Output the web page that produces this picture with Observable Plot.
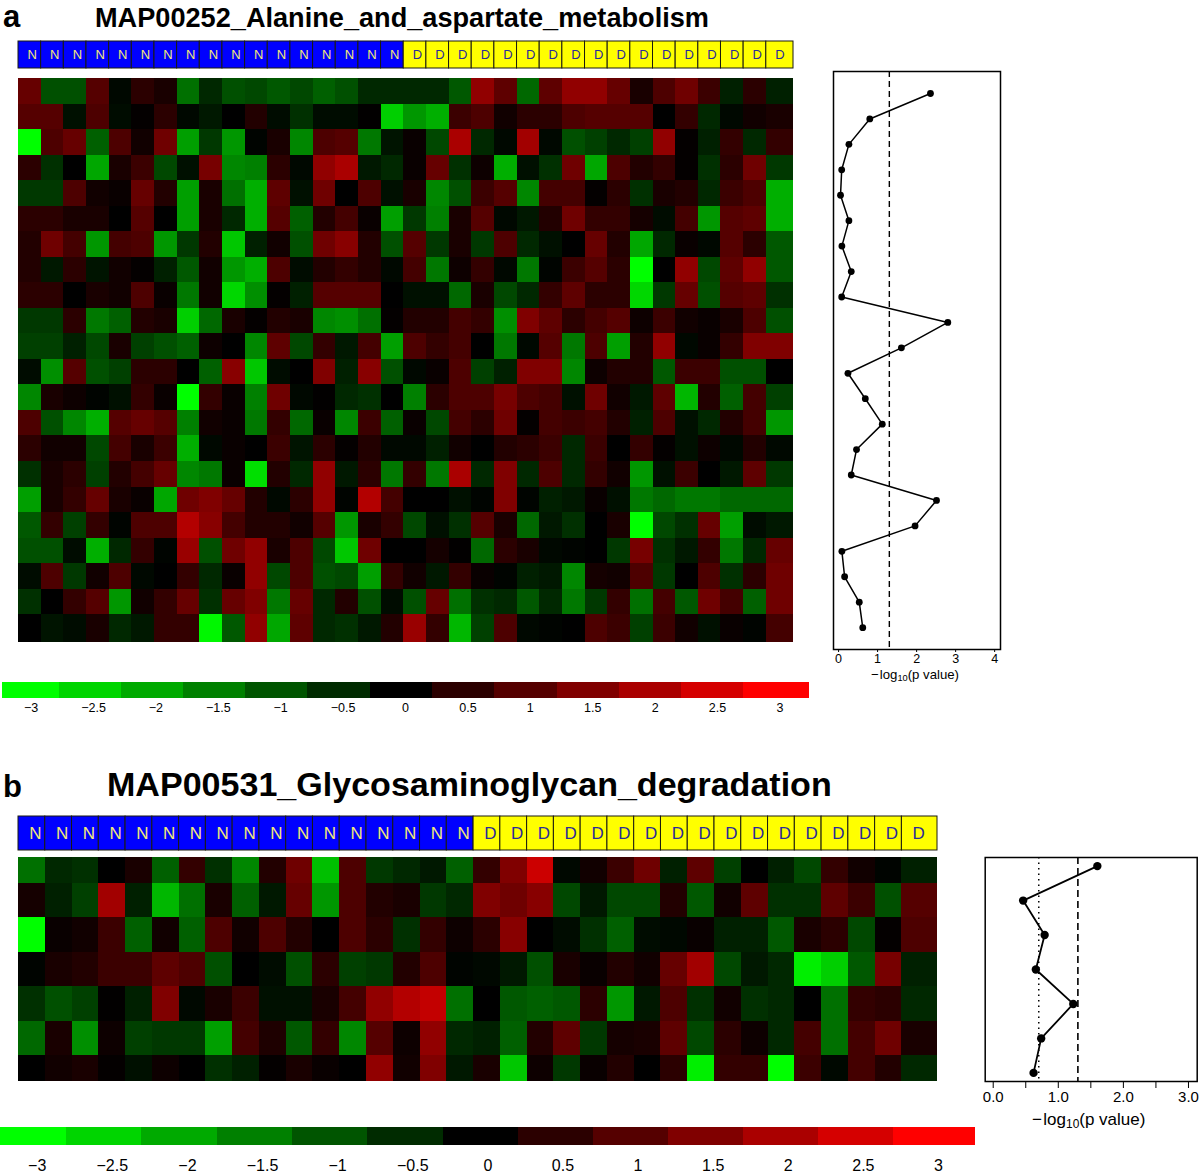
<!DOCTYPE html>
<html>
<head>
<meta charset="utf-8">
<script src="https://cdn.jsdelivr.net/npm/d3@7"></script>
<script src="https://cdn.jsdelivr.net/npm/@observablehq/plot@0.6"></script>
<style>
html,body{margin:0;padding:0;background:#fff}
#page{position:relative;width:1200px;height:1176px;overflow:hidden;font-family:"Liberation Sans",Arial,sans-serif;color:#000}
#page svg{position:absolute;background:transparent}
.t{position:absolute;font-weight:700;white-space:nowrap;line-height:1}
.x{position:absolute;white-space:nowrap;line-height:1}
.x sub{font-size:70%;line-height:0;vertical-align:-0.25em}
</style>
</head>
<body>
<div id="page"></div>
<script>
const titleA = "MAP00252_Alanine_and_aspartate_metabolism";
const titleB = "MAP00531_Glycosaminoglycan_degradation";
const classes = ["N","N","N","N","N","N","N","N","N","N","N","N","N","N","N","N","N","D","D","D","D","D","D","D","D","D","D","D","D","D","D","D","D","D"];

const heatA = [
[1.2,-1,-1,1,-.1,.5,.3,-1.4,-.5,-1,-.9,-1.1,-.9,-1.2,-1,-.5,-.5,-.5,-.5,-1.1,1.7,1.1,-1.3,1.1,1.7,1.7,1.2,.3,.9,1.3,.7,-.4,.5,-.4],
[1,1,-.2,.9,-.15,.05,.5,-.1,-.3,0,.4,-.15,-.6,-.15,-.15,.02,-2.6,-1.9,-2.2,.7,.9,.2,.5,.5,.9,1,1,1,0,.6,-.5,-.1,.2,.3],
[-3.2,.9,1.2,-1.2,.9,.2,1.3,-2,-.7,-1.9,-.05,.3,-1.7,.9,1,-1.5,-.25,.1,-.9,2,-.5,-.1,1.9,-.1,-1,-.8,-.5,-.8,1.7,.05,-.4,.6,-.5,.6],
[.5,-.6,0,-2.1,.3,.7,-.9,-.2,1.4,-1.7,-1.6,.5,-.1,1.7,2,-.3,-.5,.1,1.2,-.6,.15,-2.2,-.2,-.6,1.3,-2.1,.9,.4,.6,.05,-.6,.5,1.3,-.7],
[-.7,-.7,.9,.2,.1,1.2,.4,-2,.3,-1.4,-2.2,1.1,-.2,1.3,0,.9,-.2,.3,-1.7,-1,.7,1,-1.7,.8,.8,.05,.5,-.6,.3,.4,-.5,.7,.9,-2.2],
[.5,.5,.3,.3,0,1,0,-2,.3,-.5,-2.2,1,-1.2,.4,.8,.1,-2,-.7,-1.6,.3,1,-.1,-.3,.4,1.3,.6,.6,.25,-.15,.8,-1.9,1,1.1,-2.2],
[.4,1.3,.8,-1.9,.8,.9,-1.9,-.7,.4,-2.5,-.4,.2,-1,1.3,1.6,.4,-1,1,-.7,.3,-.7,.9,-.5,-.2,0,1.2,.4,-2.1,-.5,.1,-.1,1,.5,-1.1],
[.4,-.3,.5,-.25,.2,.05,-.4,-1.1,.2,-1.9,-2.2,.9,-.15,.4,.6,.4,-.1,.8,-1.5,.15,.6,-.1,-1.5,-.05,.7,1,.5,-3.2,0,1.7,-.9,1.1,1.7,-1.1],
[.5,.5,0,.3,.2,.9,.1,-1.5,.2,-2.7,-1.8,.05,-.4,1,1,1,0,-.2,-.2,-1.3,.3,-.9,-.5,.6,1.1,.5,.5,-2.7,-.7,1.2,-1,1,1.1,-.6],
[-.7,-.7,.5,-1.5,-1.2,.4,.3,-2.6,-1.3,.3,.05,.4,.3,-1.7,-1.8,-1.4,.05,.4,.4,.8,.6,-1.8,1.5,1.1,.5,.8,1,.15,.7,.2,.1,.3,.9,-1],
[-.8,-.8,-.4,-.9,.3,-.8,-1,-1.2,.15,0,-1.7,1.1,-.9,.6,-.3,.8,-2,.9,.6,.8,0,-1.5,-.1,1,-1.5,.9,-2,.4,1.7,-.1,.1,.6,1.5,1.5],
[-.15,-1.8,1,-1,-.8,.5,.5,0,-1.2,1.6,-2.5,-.15,0,1.5,-.4,1.6,-1,-.1,.1,.9,-.8,-.4,1.5,1.5,-1.7,.15,.4,.4,-1.1,.7,.7,-1,-1,0],
[-1.7,.3,.15,-.05,-.2,.6,.1,-3.2,.6,.1,-1.6,1.3,-.1,.02,-.5,-.6,0,-1.6,.5,.9,.9,1.4,.9,.8,-.2,1.3,.2,-.3,1.1,-2.3,.4,-1.2,.8,-.8],
[.9,-1,-1.7,-2.2,1,1.2,1,-1.6,.2,.1,-1.5,.6,-1.3,.1,-1.7,.7,-1.2,.1,-.9,.8,.5,1.3,.05,.8,.7,.8,.4,-.4,.9,-.2,-.5,.4,.8,-1.9],
[.5,.2,.2,-.9,.8,.3,.7,-2.2,-.1,.1,0,.7,-.25,.5,.05,.4,-.1,-.1,-.4,.2,0,.4,.5,.7,-.5,.7,0,.6,.05,-.2,.15,-.1,.4,-.1],
[-.6,.3,.5,-.8,.4,.8,1.2,-1.7,-1.5,.1,-2.8,.4,-.5,1.7,-.3,.5,-1.5,.6,-1.5,2,-.5,1.5,-.5,.9,-.5,.6,.2,-1.9,-.2,.7,0,-.3,1.1,-.7],
[-2,.3,.6,1.2,.3,.1,-2.1,1.3,1.5,1.2,.4,-.1,.5,1.7,-.05,2.1,.8,0,0,-.2,-.05,1.5,-.05,-.4,-.3,.1,-.2,-1.5,-1.3,-1.5,-1.5,-1.3,-1.3,-1.3],
[-1.1,.6,-.8,.6,-.05,.9,.9,2.1,1.6,.8,.4,.4,.2,1,-1.9,.3,.6,-.9,-.2,-.6,1,.3,-1.3,-.3,-.6,0,.3,-3.2,-.9,-.6,1.2,-2,-.15,-.3],
[-1,-1,-.15,-2.2,-.5,.6,-.05,1.8,-1,1.3,1.7,.3,.9,-.9,-2.5,1.3,0,0,.25,.02,-1.3,.5,.3,-.1,-.05,0,-.7,1.4,-.6,-.3,.6,-1.5,-.5,1.2],
[-.15,.9,-.7,.2,.9,-.1,0,.6,-.5,.1,1.7,-.9,.9,-1,-.9,-2,.6,.2,-.3,.6,.1,-.05,-.4,-.3,-1.7,.25,.2,.9,-.7,0,.9,-.6,.5,1.3],
[-.6,0,.6,1,-1.9,.2,.6,1.2,-.6,1.2,1.5,-1.5,1.2,-.5,.4,-1,-.15,-1,1.2,-1.4,-.6,-.5,-1.1,-.5,-1.5,-.7,.6,-1.4,.8,-1.1,1.3,.8,-1.2,1.3],
[0,-.25,-.15,.3,-.5,-.3,.6,.6,-3.1,-1.1,1.7,-2.1,1.1,-.5,-.6,-.3,.4,1.8,.6,-2.3,-.8,.9,-.1,-.05,0,.9,.7,-.8,.7,.2,-.2,.1,-.05,.8]
];
const heatB = [
[-1.4,-.5,-.6,0,.3,-1.2,.6,-.6,-1.7,.4,1.3,-2.4,.9,-.7,-.5,-.3,-1.2,.6,1.5,2.4,-.1,.2,.7,1.3,-.4,1.1,-.8,0,-.4,-.9,.6,.2,-.05,-.4],
[.25,-.4,-.8,1.9,-.4,-2.3,-1.4,.3,-1.2,-.3,1.2,-1.9,.9,.4,.3,-.7,-.5,1.5,1.3,1.6,-.9,-.3,-.9,-.9,.4,-1.1,.2,1.1,-.6,-.6,1.1,.7,-1,1],
[-3.2,.1,.2,.7,-1.2,.2,-1.2,.9,.2,.9,.4,0,.9,.5,-.6,.6,.15,.5,1.6,0,-.15,-.6,-1.2,-.15,-.1,.1,-.4,-.4,-1.1,.3,.5,-.9,.05,.9],
[-.05,.3,.4,.7,.7,1.1,.9,-1,0,-.15,-1,.5,-.8,-.7,.4,.9,-.05,-.1,-.3,-1,.3,.1,.4,.2,1.2,1.9,-.9,-.3,-.5,-3,-2.6,-1.1,1.4,-.4],
[-.6,-1,-.8,.02,-.4,1.5,-.1,.3,.7,-.2,-.2,.3,.8,1.7,2.1,2.3,-1.4,0,-1.1,-1.2,-1.1,.5,-1.9,-.3,.9,-.6,.2,-.6,-.5,0,-1.4,.6,.5,-.5],
[-1.3,.3,-1.8,.15,-.8,-.7,-.7,-2,.8,.35,-1.1,.6,-1.7,1,.15,1.7,-.5,-.4,-1.2,.4,1.1,-.7,.25,.3,1.1,-.9,.5,.15,-.5,.8,-1.4,.8,1.3,.3],
[0,.2,.3,.05,-.2,.15,0,-.6,-.4,.05,.3,.1,0,1.7,.2,1.5,-.3,.3,-2.5,.15,-.7,.1,.4,0,.5,-3,.6,.6,-3.2,.7,-.1,.8,.4,-.5]
];
const pvalsA = [2.355,.80,.265,.08,.05,.265,.085,.325,.08,2.80,1.61,.24,.685,1.12,.46,.325,2.51,1.96,.085,.155,.53,.62];
const pvalsB = [1.60,.46,.79,.655,1.23,.737,.62];
const legendLevels = [-3,-2.5,-2,-1.5,-1,-.5,0,.5,1,1.5,2,2.5,3];
const legendEdgesA = [-3.23,-2.772,-2.276,-1.779,-1.282,-.785,-.28,.216,.713,1.218,1.715,2.212,2.708,3.237];
const legendEdgesB = [-3.243,-2.803,-2.304,-1.798,-1.298,-.799,-.293,.206,.706,1.205,1.704,2.204,2.703,3.249];

const page = document.getElementById("page");
const FONT = '"Liberation Sans",Arial,sans-serif';
const legendColor = {type:"linear", domain:[-3,0,3], range:["#00ff00","#000000","#ff0000"], interpolate:"rgb", clamp:true};
const heatColor = {type:"linear", domain:[-3.2,0,3], range:["#00ff00","#000000","#ff0000"], interpolate:"rgb", clamp:true};
const fmt = d => d < 0 ? "\u2212" + (-d) : String(d);

function put(svg,left,top){ svg.style.left=left+"px"; svg.style.top=top+"px"; page.appendChild(svg); }
function text(cls,html,left,top,size){
  const e=document.createElement("div"); e.className=cls; e.innerHTML=html;
  e.style.left=left+"px"; e.style.top=top+"px"; e.style.fontSize=size+"px"; page.appendChild(e); return e;
}

function strip(left,top,w,h,xmax,fs,off){
  const cells = classes.map((k,c)=>({k,c}));
  put(Plot.plot({width:w+2,height:h+2,marginTop:1,marginLeft:1,marginRight:1,marginBottom:1,
    style:{fontFamily:FONT},
    x:{domain:[0,xmax],range:[1,w+1],axis:null},
    y:{domain:[0,1],range:[1,h+1],axis:null},
    marks:[
      Plot.rect(cells,{x1:"c",x2:d=>d.c==33?xmax:d.c+1,y1:0,y2:1,fill:d=>d.k=="N"?"#0000ff":"#ffff00",stroke:"#1a1a10",strokeWidth:1}),
      Plot.text(cells,{x:d=>d.c+off,y:.5,text:"k",fontSize:fs,fill:d=>d.k=="N"?"#f2e878":"#2a2a9a"})
    ]}),left-1,top-1);
}
function heat(rows,left,top,w,h,xmax,ydomain,y1,y2){
  const cells = rows.flatMap((row,r)=>row.map((v,c)=>({r,c,v})));
  put(Plot.plot({width:w,height:h,margin:0,
    x:{domain:[0,xmax],range:[0,w],axis:null},
    y:{domain:ydomain,range:[0,h],axis:null},
    color:heatColor,
    marks:[Plot.rect(cells,{x1:"c",x2:d=>d.c==33?xmax:d.c+1,y1:d=>y1(d.r),y2:d=>y2(d.r),fill:"v",shapeRendering:"crispEdges"})]
  }),left,top);
}
function legend(edges,top,barH,x0,x3,w,fs,pad,totalH){
  const bins = legendLevels.map((v,i)=>({v,a:edges[i],b:edges[i+1]}));
  put(Plot.plot({width:w,height:totalH,marginTop:0,marginLeft:0,marginRight:0,marginBottom:totalH-barH,
    style:{fontFamily:FONT},
    x:{domain:[-3,3],range:[x0,x3]},
    color:legendColor,
    marks:[
      Plot.rect(bins,{x1:"a",x2:"b",fill:"v",shapeRendering:"crispEdges"}),
      Plot.axisX({ticks:legendLevels,tickFormat:fmt,tickSize:0,tickPadding:pad,fontSize:fs,label:null})
    ]}),0,top);
}
function side(vals,o){
  const marks = [
    Plot.frame({stroke:"#000",strokeWidth:1.5}),
    ...o.rules.map(r=>Plot.ruleX([r.x],{stroke:"#000",strokeWidth:r.sw,strokeDasharray:r.dash})),
    Plot.line(vals,{x:d=>d,y:(d,i)=>i,stroke:"#000",strokeWidth:o.lw,curve:"linear"}),
    Plot.dot(vals,{x:d=>d,y:(d,i)=>i,r:o.r,fill:"#000"}),
    Plot.axisX({ticks:o.labelTicks,tickFormat:o.f,tickSize:o.ts,tickPadding:o.tp,fontSize:o.fs,label:null,strokeWidth:1})
  ];
  if(o.minor) marks.push(Plot.axisX({ticks:o.minor,tickFormat:()=>"",tickSize:o.ts,label:null,strokeWidth:1}));
  put(Plot.plot({width:o.w,height:o.h,marginLeft:o.ml,marginRight:o.mr,marginTop:o.mt,marginBottom:o.mb,
    style:{fontFamily:FONT},
    x:{domain:o.xd},
    y:{domain:o.yd,range:[o.mt,o.h-o.mb],axis:null},
    marks}),o.left,o.top);
}

// Panel a
text("t","a",3,1,31);
text("t",titleA,95,4,27.15);
strip(18,40.5,775,27,34.2,13,.6);
heat(heatA,18,78,775,564,34.2,[0,22.09],r=>r,r=>r==21?22.09:r+1);
legend(legendEdgesA,682,16,30.6,779.4,815,12.5,5,36);
side(pvalsA,{left:820,top:60,w:190,h:630,ml:13,mr:10,mt:11,mb:41,xd:[-.13,4.15],yd:[-.865,21.86],
  rules:[{x:1.301,sw:1.4,dash:"6,4"}],lw:1.5,r:3.4,labelTicks:[0,1,2,3,4],f:d=>String(d),ts:3,tp:2,fs:12.5});
text("x","\u2212\u200Alog<sub>10</sub>(p value)",871,667.5,13.2);

// Panel b
text("t","b",3,771,31);
text("t",titleB,107,767,34.05);
strip(18,816,919,34,34.33,17,.63);
heat(heatB,18,857,919,224,34.33,[-.25,6.25],r=>Math.max(r-.5,-.25),r=>Math.min(r+.5,6.25));
legend(legendEdgesB,1127,18,36.7,938,975,16,14,48);
side(pvalsB,{left:975,top:845,w:225,h:280,ml:9.7,mr:3.3,mt:12,mb:44,xd:[-.123,3.134],yd:[-.25,6.25],
  rules:[{x:.7,sw:1.5,dash:"1.5,4"},{x:1.301,sw:1.6,dash:"7,4"}],lw:1.8,r:4.2,labelTicks:[0,1,2,3],f:d=>d.toFixed(1),minor:[.5,1.5,2.5],ts:7,tp:3,fs:15});
text("x","\u2212\u200Alog<sub>10</sub>(p value)",1032,1110.5,17);
</script>
</body>
</html>
